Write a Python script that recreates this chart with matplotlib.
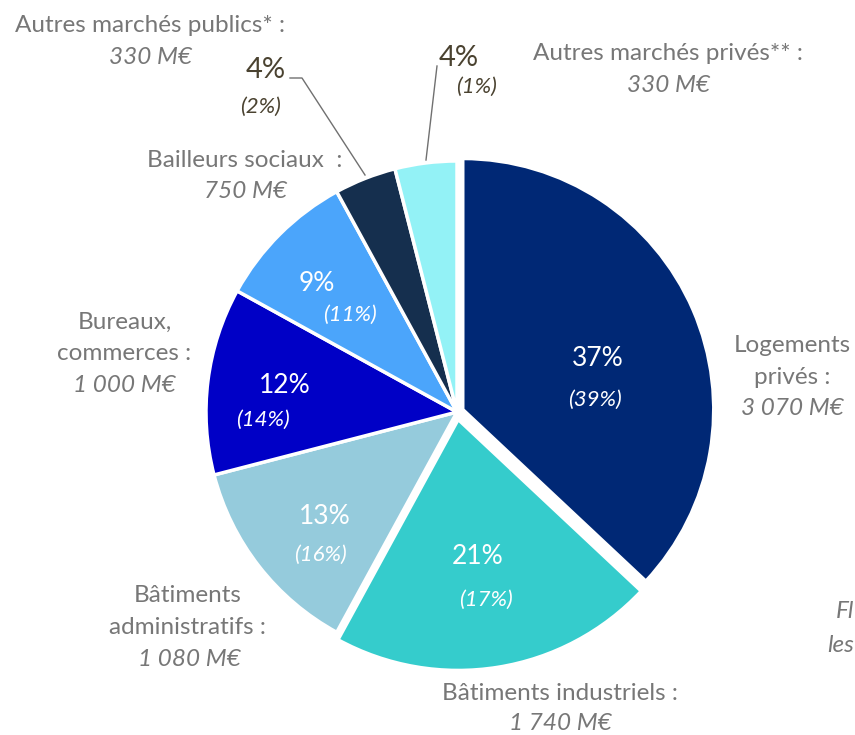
import matplotlib.pyplot as plt

# parts de marché (M€), ordre horaire depuis midi
categories = ["Logements privés", "Bâtiments industriels", "Bâtiments administratifs",
              "Bureaux, commerces", "Bailleurs sociaux", "Autres marchés publics",
              "Autres marchés privés"]
montants = [3070, 1740, 1080, 1000, 750, 330, 330]
parts_ref = [39, 17, 16, 14, 11, 2, 1]  # entre parenthèses
couleurs = ["#002875", "#35cccc", "#95cbdc", "#0000c6", "#4ba5fb", "#152f4e", "#93f2f6"]
eclatement = [0.025, 0.03, 0, 0, 0, 0, 0]  # fraction du rayon

W, H = 855, 735
fig = plt.figure(figsize=(W / 100, H / 100), dpi=100)
ax = fig.add_axes([0, 0, 1, 1])
plt.rcParams['font.family'] = ['Lato', 'DejaVu Sans']

cx, cy, r = 457, H - 412, 251
# explode est en unités de données, pas relatif au rayon
ax.pie(montants, colors=couleurs, startangle=90, counterclock=False,
       explode=[e * r for e in eclatement], center=(cx, cy), radius=r,
       wedgeprops=dict(edgecolor='white', linewidth=2.5), frame=True)
ax.set_xlim(0, W)
ax.set_ylim(0, H)
ax.axis('off')

total = sum(montants)
pct = [f"{round(v / total * 100)}%" for v in montants]
ref = [f"({p}%)" for p in parts_ref]

def y(p):
    return H - p

# étiquettes dans les secteurs
interieur = [(598, 358, 595, 400), (478, 557, 486, 600), (325, 517, 320, 555),
             (285, 385, 263, 420), (317, 283, 350, 315)]
for i, (x1, y1, x2, y2) in enumerate(interieur):
    ax.text(x1, y(y1), pct[i], color='white', fontsize=19, ha='center', va='center')
    ax.text(x2, y(y2), ref[i], color='white', fontsize=16, style='italic',
            ha='center', va='center')

# petits secteurs : étiquettes extérieures
olive = "#4a4230"
ax.text(266, y(70), pct[5], color=olive, fontsize=21, ha='center', va='center')
ax.text(260, y(107), ref[5], color=olive, fontsize=16, style='italic', ha='center', va='center')
ax.plot([290, 302, 365], [y(78), y(78), y(175)], color='#707070', lw=1)
ax.text(459, y(58), pct[6], color=olive, fontsize=21, ha='center', va='center')
ax.text(476, y(87), ref[6], color=olive, fontsize=16, style='italic', ha='center', va='center')
ax.plot([437, 426], [y(66), y(160)], color='#707070', lw=1)

# noms des catégories : (x, y, texte, italique)
gris = "#777777"
noms = [
    (150, 25, "Autres marchés publics* :", False), (150, 57, "330 M€", True),
    (668, 53, "Autres marchés privés** :", False), (668, 85, "330 M€", True),
    (245, 160, "Bailleurs sociaux  :", False), (245, 191, "750 M€", True),
    (125, 322, "Bureaux,", False), (124, 353, "commerces :", False),
    (124, 385, "1 000 M€", True),
    (188, 595, "Bâtiments", False), (187, 627, "administratifs :", False),
    (189, 660, "1 080 M€", True),
    (560, 693, "Bâtiments industriels :", False), (560, 723, "1 740 M€", True),
    (792, 345, "Logements", False), (792, 377, "privés :", False),
    (792, 408, "3 070 M€", True),
]
for x1, y1, t, it in noms:
    ax.text(x1, y(y1), t, color=gris, fontsize=17.5, style='italic' if it else 'normal',
            ha='center', va='center')

# note coupée au bord droit
ax.text(836, y(612), "Fl", color=gris, fontsize=17.5, style='italic', ha='left', va='center')
ax.text(827, y(646), "les", color=gris, fontsize=17.5, style='italic', ha='left', va='center')

fig.savefig("out.png", dpi=100)
